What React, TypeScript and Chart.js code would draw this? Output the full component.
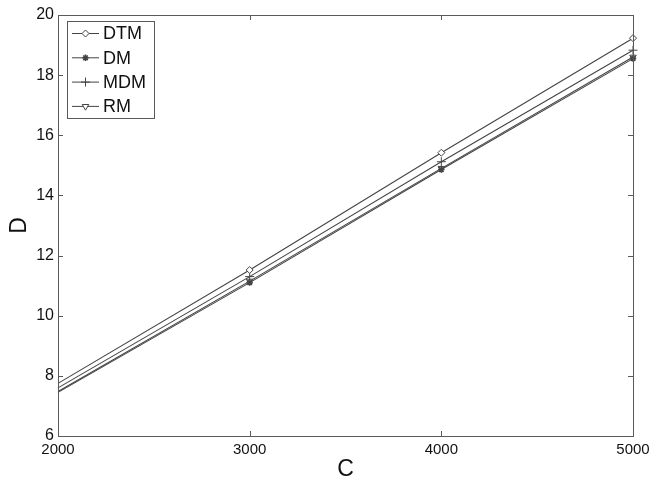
import React, { useEffect, useRef } from "react";
import { Chart, registerables } from "chart.js";
import { drawPoint } from "chart.js/helpers";

Chart.register(...registerables);

// Problem sizes on the horizontal axis
const cValues = [2000, 3000, 4000, 5000];

// Series values
const dtm = [7.75, 11.52, 15.42, 19.23];
const dm = [7.45, 11.1, 14.86, 18.55];
const mdm = [7.6, 11.3, 15.12, 18.83];
const rm = [7.48, 11.15, 14.9, 18.6];

const seriesNames = ["DTM", "DM", "MDM", "RM"];

const xTicks = [2000, 3000, 4000, 5000];
const yTicks = [6, 8, 10, 12, 14, 16, 18, 20];

const FONT = "'Liberation Sans', Arial, Helvetica, sans-serif";
const LINE = "#444444";
const AXIS = "#5a5a5a";

type Style = { pointStyle: any; radius: number; rotation: number; fill: string; borderWidth: number };
const styles: Style[] = [
  { pointStyle: "rectRot", radius: 3.5, rotation: 0, fill: "#ffffff", borderWidth: 1 },
  { pointStyle: "star", radius: 3.2, rotation: 0, fill: LINE, borderWidth: 1.6 },
  { pointStyle: "cross", radius: 4.5, rotation: 0, fill: "#ffffff", borderWidth: 1 },
  { pointStyle: "triangle", radius: 3.8, rotation: 180, fill: "#ffffff", borderWidth: 1 },
];

// Inward ticks on all four sides plus the closed frame around the plot
const framePlugin = {
  id: "frame",
  afterDraw(chart: any) {
    const { ctx, chartArea, scales } = chart;
    const { left, right, top, bottom } = chartArea;
    const len = 5;
    ctx.save();
    ctx.strokeStyle = AXIS;
    ctx.lineWidth = 1;
    ctx.beginPath();
    ctx.rect(left + 0.5, top + 0.5, right - left, bottom - top);
    for (const v of yTicks) {
      const y = Math.round(scales.y.getPixelForValue(v)) + 0.5;
      ctx.moveTo(left, y);
      ctx.lineTo(left + len, y);
      ctx.moveTo(right, y);
      ctx.lineTo(right - len, y);
    }
    for (const v of xTicks) {
      const x = Math.round(scales.x.getPixelForValue(v)) + 0.5;
      ctx.moveTo(x, bottom);
      ctx.lineTo(x, bottom - len);
      ctx.moveTo(x, top);
      ctx.lineTo(x, top + len);
    }
    ctx.stroke();
    ctx.restore();
  },
};

// Boxed legend with a line sample through each marker
const legendPlugin = {
  id: "boxLegend",
  afterDraw(chart: any) {
    const { ctx, chartArea } = chart;
    const bx = chartArea.left + 9;
    const by = chartArea.top + 6;
    const bw = 87;
    const bh = 97;
    ctx.save();
    ctx.fillStyle = "#ffffff";
    ctx.fillRect(bx, by, bw, bh);
    ctx.strokeStyle = AXIS;
    ctx.lineWidth = 1;
    ctx.strokeRect(bx + 0.5, by + 0.5, bw, bh);
    ctx.font = `18px ${FONT}`;
    ctx.textBaseline = "middle";
    chart.data.datasets.forEach((ds: any, i: number) => {
      const y = by + 12.5 + i * 24.3;
      ctx.strokeStyle = LINE;
      ctx.lineWidth = 1;
      ctx.beginPath();
      ctx.moveTo(bx + 5, y);
      ctx.lineTo(bx + 32, y);
      ctx.stroke();
      const s = styles[i];
      ctx.fillStyle = s.fill;
      ctx.strokeStyle = LINE;
      ctx.lineWidth = s.borderWidth;
      drawPoint(ctx, { pointStyle: s.pointStyle, radius: s.radius, rotation: s.rotation, borderWidth: s.borderWidth }, bx + 18.5, y);
      ctx.fillStyle = "#111111";
      ctx.fillText(ds.label, bx + 36, y + 1);
    });
    ctx.restore();
  },
};

export default function App() {
  const ref = useRef<HTMLCanvasElement>(null);

  useEffect(() => {
    if (!ref.current) return;
    const all = [dtm, dm, mdm, rm];
    const chart = new Chart(ref.current, {
      type: "line",
      data: {
        datasets: all.map((vals, i) => ({
          label: seriesNames[i],
          data: cValues.map((c, j) => ({ x: c, y: vals[j] })),
          borderColor: LINE,
          borderWidth: 1.1,
          backgroundColor: styles[i].fill,
          pointBorderColor: LINE,
          pointBackgroundColor: styles[i].fill,
          pointStyle: styles[i].pointStyle,
          pointRotation: styles[i].rotation,
          pointBorderWidth: styles[i].borderWidth,
          pointRadius: (c: any) => (c.dataIndex === 0 ? 0 : styles[i].radius),
          tension: 0,
          fill: false,
          clip: false,
        })),
      },
      options: {
        animation: false,
        responsive: false,
        layout: { padding: { left: 0, top: 15, right: 18, bottom: 0 } },
        plugins: { legend: { display: false }, tooltip: { enabled: false } },
        scales: {
          x: {
            type: "linear",
            min: 2000,
            max: 5000,
            afterBuildTicks: (s: any) => {
              s.ticks = xTicks.map((v) => ({ value: v }));
            },
            afterFit: (s: any) => {
              s.height = 49;
              s.paddingLeft = 0;
              s.paddingRight = 0;
            },
            grid: { display: false, drawTicks: false },
            border: { display: true, color: AXIS },
            ticks: {
              color: "#111111",
              padding: 5,
              maxRotation: 0,
              autoSkip: false,
              font: { family: FONT, size: 15 },
              callback: (v: any) => String(v),
            },
            title: {
              display: true,
              text: "C",
              color: "#111111",
              padding: { top: 0, bottom: 2 },
              font: { family: FONT, size: 23 },
            },
          },
          y: {
            type: "linear",
            min: 6,
            max: 20,
            afterBuildTicks: (s: any) => {
              s.ticks = yTicks.map((v) => ({ value: v }));
            },
            afterFit: (s: any) => {
              s.width = 58;
              s.paddingTop = 0;
              s.paddingBottom = 0;
            },
            grid: { display: false, drawTicks: false },
            border: { display: true, color: AXIS },
            ticks: {
              color: "#111111",
              padding: 4,
              autoSkip: false,
              font: { family: FONT, size: 16 },
            },
            title: {
              display: true,
              text: "D",
              color: "#111111",
              padding: { top: 6, bottom: 0 },
              font: { family: FONT, size: 23 },
            },
          },
        },
      },
      plugins: [framePlugin, legendPlugin],
    });
    return () => chart.destroy();
  }, []);

  return (
    <div style={{ position: "fixed", left: 0, top: 0, width: 651, height: 485, background: "#ffffff" }}>
      <canvas ref={ref} width={651} height={485} />
    </div>
  );
}
